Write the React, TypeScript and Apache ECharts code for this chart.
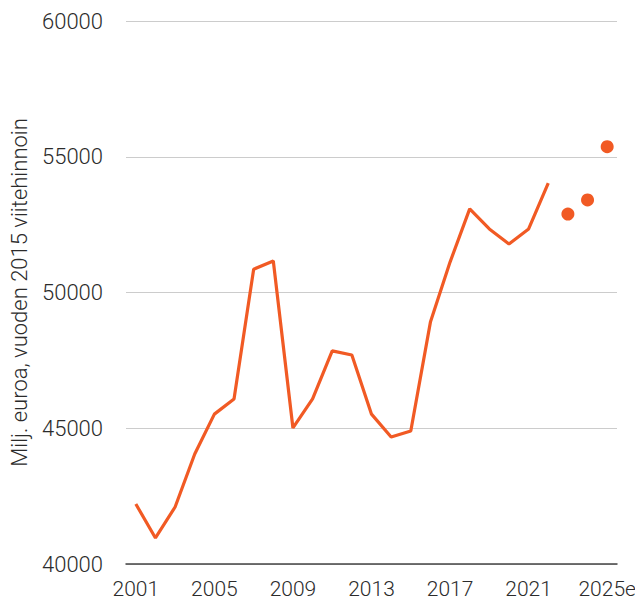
import React, { useEffect, useRef } from "react";
import * as echarts from "echarts";

const years = ["2001","2002","2003","2004","2005","2006","2007","2008","2009","2010","2011","2012","2013","2014","2015","2016","2017","2018","2019","2020","2021","2022","2023","2024","2025e"];
const actual = [42210,40960,42100,44050,45520,46080,50860,51160,45010,46080,47850,47700,45520,44680,44900,48910,51120,53080,52340,51790,52340,54030,null,null,null];
const forecast = [null,null,null,null,null,null,null,null,null,null,null,null,null,null,null,null,null,null,null,null,null,null,52890,53410,55370];
const yTicks = [40000, 45000, 50000, 55000, 60000];
const yName = "Milj. euroa, vuoden 2015 viitehinnoin";

const COLOR = "#F15A24";
const TEXT = "#2b2b2b";

export default function App() {
  const ref = useRef<HTMLDivElement>(null);
  useEffect(() => {
    const chart = echarts.init(ref.current!, null, { renderer: "svg" });
    chart.setOption({
      animation: false,
      textStyle: { fontFamily: "Roboto" },
      grid: { left: 118, right: 18, top: 13, bottom: 36, containLabel: false, outerBoundsMode: "none" },
      xAxis: {
        type: "category",
        data: years,
        boundaryGap: true,
        axisLine: { lineStyle: { color: "#444", width: 1.5 } },
        axisTick: { interval: 3, length: 6, lineStyle: { color: "#444" } },
        axisLabel: { interval: 3, color: TEXT, fontSize: 21, fontWeight: 300, fontFamily: "Roboto", margin: 14 },
        splitLine: { show: false },
      },
      yAxis: {
        type: "value",
        min: yTicks[0],
        max: yTicks[yTicks.length - 1],
        interval: 5000,
        name: yName,
        nameLocation: "middle",
        nameGap: 96,
        nameTextStyle: { color: TEXT, fontSize: 22, fontWeight: 300, fontFamily: "Roboto" },
        axisLine: { show: false },
        axisTick: { show: false },
        axisLabel: {
          color: TEXT,
          fontSize: 22,
          fontWeight: 300,
          fontFamily: "Roboto",
          margin: 23,
          formatter: (v: number) => String(v),
        },
        splitLine: { lineStyle: { color: "#cccccc", width: 1 } },
      },
      series: [
        {
          type: "line",
          data: actual,
          symbol: "none",
          lineStyle: { color: COLOR, width: 3.2 },
          itemStyle: { color: COLOR },
        },
        {
          type: "scatter",
          data: forecast,
          symbol: "circle",
          symbolSize: 13,
          itemStyle: { color: COLOR, opacity: 1 },
        },
      ],
    });
    return () => chart.dispose();
  }, []);
  return <div ref={ref} style={{ width: 627, height: 592 }} />;
}
